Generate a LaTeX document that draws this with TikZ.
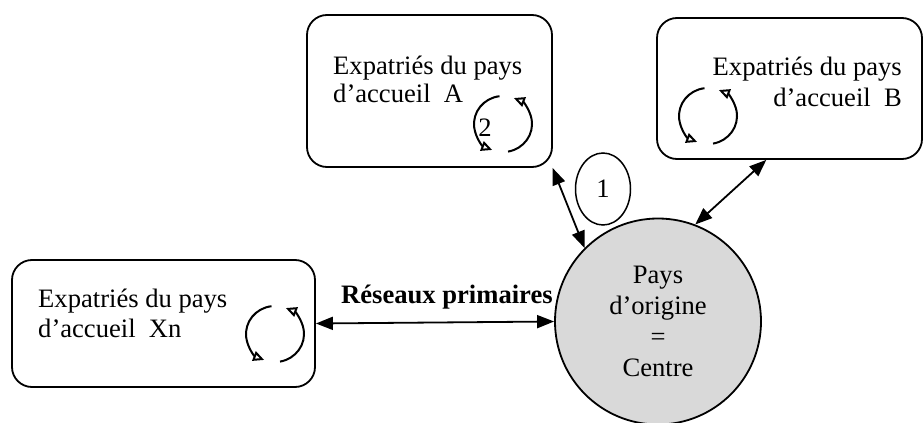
\documentclass[tikz,border=0pt]{standalone}
\usepackage{fontspec}
\setmainfont{Liberation Serif}
\usetikzlibrary{arrows.meta,shapes.geometric}
\begin{document}
\begin{tikzpicture}[x=1pt,y=-1pt,
  every node/.style={font=\fontsize{26.6}{31}\selectfont},
  box/.style={draw, line width=1.8pt, rounded corners=20pt, inner sep=0pt},
  conn/.style={line width=1.8pt, {Triangle[length=17pt,width=13pt]}-{Triangle[length=17pt,width=13pt]}},
  cyc/.style={line width=2pt, -{Triangle[open,length=11pt,width=10pt]}},
  rotarrows/.pic={
    \draw[cyc] (97:29pt and 28pt) arc[start angle=97,end angle=248,x radius=29pt,y radius=28pt];
    \draw[cyc] (-80:29pt and 28pt) arc[start angle=-80,end angle=68,x radius=29pt,y radius=28pt];
  }
]
\fill[white] (0,0) rectangle (924,423);
\useasboundingbox (0,0) rectangle (924,423);

% boxes
\node[box, minimum width=245pt, minimum height=152pt] (boxA) at (429.5,91) {};
\node[box, minimum width=265pt, minimum height=141pt] (boxB) at (789.5,88.5) {};
\node[box, minimum width=303pt, minimum height=127pt] (boxX) at (163.5,323.5) {};

% texts of box A
\node[anchor=base west, inner sep=0pt] (ta1) at (333,74) {Expatriés du pays};
\node[anchor=base west, inner sep=0pt] (ta2) at (333,102) {d’accueil~~A};
% texts of box B
\node[anchor=base east, inner sep=0pt] (tb1) at (902,75) {Expatriés du pays};
\node[anchor=base east, inner sep=0pt] (tb2) at (902,106) {d’accueil~~B};
% texts of box Xn
\node[anchor=base west, inner sep=0pt] (tx1) at (38,307) {Expatriés du pays};
\node[anchor=base west, inner sep=0pt] (tx2) at (38,337) {d’accueil~~Xn};

% cycle arrows
\pic at (503,124) {rotarrows};
\pic at (708,116) {rotarrows};
\pic at (275,334) {rotarrows};
\node[inner sep=0pt] (two) at (485,128) {2};

% centre
\node[draw, circle, line width=1.8pt, fill={rgb,255:red,217;green,217;blue,217},
      minimum size=206pt, inner sep=0pt, align=center, yshift=1.5pt] (ctr) at (658,323)
      {Pays\\d’origine\\=\\Centre};

% ellipse 1
\node[draw, ellipse, line width=1.5pt, minimum width=55pt, minimum height=72pt, inner sep=0pt] (one) at (603,189) {1};

% connectors
\draw[conn] (boxA.-32.6) -- (ctr.135);
\draw[conn] (boxB.-108.4) -- (ctr.69);
\draw[conn] (boxX.east) -- (ctr.west)
  node[pos=0.55, anchor=base, yshift=18.5pt, inner sep=0pt, font=\fontsize{26.6}{31}\selectfont\bfseries] (lab) {Réseaux primaires};
\end{tikzpicture}
\end{document}
